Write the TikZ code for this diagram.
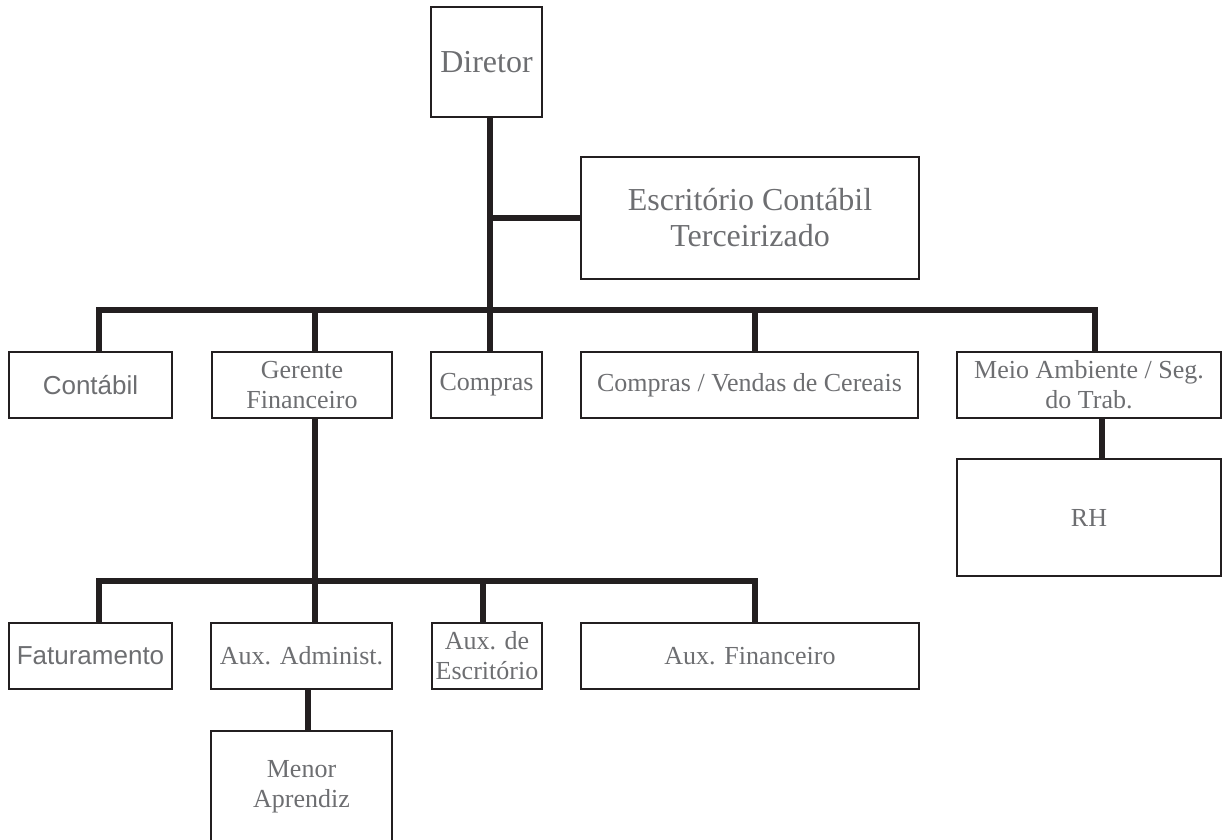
\documentclass[tikz,border=0pt]{standalone}
\usepackage{fontspec}
\setmainfont{Liberation Serif}
\newfontfamily\arialfont{Liberation Sans}
\usepackage{tikz}
\usetikzlibrary{positioning,calc}
\usepackage{xcolor}
\definecolor{linedark}{HTML}{231F20}
\definecolor{txtgray}{HTML}{6D6E71}

\begin{document}
\begin{tikzpicture}[x=1pt, y=-1pt,
  orgbox/.style={rectangle, draw=linedark, line width=1.5pt, inner sep=0pt, minimum height=66pt, align=center,
    text=txtgray, font=\fontsize{26}{30}\selectfont},
  bigbox/.style={orgbox, font=\fontsize{32}{36}\selectfont},
  sansbox/.style={orgbox, font=\arialfont\fontsize{26}{30}\selectfont},
  conn/.style={line width=6pt, linedark}
]
  \useasboundingbox (0,0) rectangle (1224,839);

  % top levels
  \node[bigbox, minimum width=111pt, minimum height=110pt] (diretor) at (486.5,62) {Diretor};
  \node[bigbox, minimum width=338pt, minimum height=122pt] (escritorio) at (750,218) {Escritório Contábil\\Terceirizado};

  % first row
  \node[sansbox, minimum width=163pt] (contabil) at (90.5,385) {Contábil};
  \node[orgbox, minimum width=180pt] (gerente) at (302,385) {Gerente\\Financeiro};
  \node[orgbox, minimum width=111pt] (compras) at (486.5,385) {Compras};
  \node[orgbox, minimum width=337pt] (cereais) at (749.5,385) {Compras / Vendas de Cereais};
  \node[orgbox, minimum width=264pt] (meio) at (1089,385) {Meio Ambiente / Seg.\\do Trab.};
  \node[orgbox, minimum width=264pt, minimum height=117pt] (rh) at (1089,517.5) {RH};

  % second row
  \node[sansbox, minimum width=163pt] (faturamento) at (90.5,656) {Faturamento};
  \node[orgbox, minimum width=181pt] (auxadm) at (301.5,656) {Aux. Administ.};
  \node[orgbox, minimum width=110pt] (auxesc) at (487,656) {Aux. de\\Escritório};
  \node[orgbox, minimum width=338pt] (auxfin) at (750,656) {Aux. Financeiro};
  \node[orgbox, minimum width=181pt, minimum height=112pt] (menor) at (301.5,787) {Menor\\Aprendiz};

  \coordinate (trunk) at ([xshift=3.5pt]diretor.south);
  \coordinate (bus1) at (0,310);
  \coordinate (bus2) at (0,581);

  % connectors
  \draw[conn] (trunk) -- (trunk |- compras.north);
  \draw[conn] (escritorio.west) -- (escritorio.west -| trunk);
  \draw[conn] ([xshift=8.5pt]contabil.north) |- ([xshift=6pt]meio.north |- bus1) -- ([xshift=6pt]meio.north);
  \draw[conn] ([xshift=13pt]gerente.north) -- ([xshift=13pt]gerente.north |- bus1);
  \draw[conn] ([xshift=5.5pt]cereais.north) -- ([xshift=5.5pt]cereais.north |- bus1);
  \draw[conn] ([xshift=13pt]meio.south) -- ([xshift=13pt]rh.north);

  \draw[conn] ([xshift=13pt]gerente.south) -- ([xshift=13pt]gerente.south |- bus2);
  \draw[conn] ([xshift=8.5pt]faturamento.north) |- ([xshift=5pt]auxfin.north |- bus2) -- ([xshift=5pt]auxfin.north);
  \draw[conn] ([xshift=13.5pt]auxadm.north) -- ([xshift=13.5pt]auxadm.north |- bus2);
  \draw[conn] ([xshift=-4pt]auxesc.north) -- ([xshift=-4pt]auxesc.north |- bus2);
  \draw[conn] ([xshift=6.5pt]auxadm.south) -- ([xshift=6.5pt]menor.north);
\end{tikzpicture}
\end{document}
